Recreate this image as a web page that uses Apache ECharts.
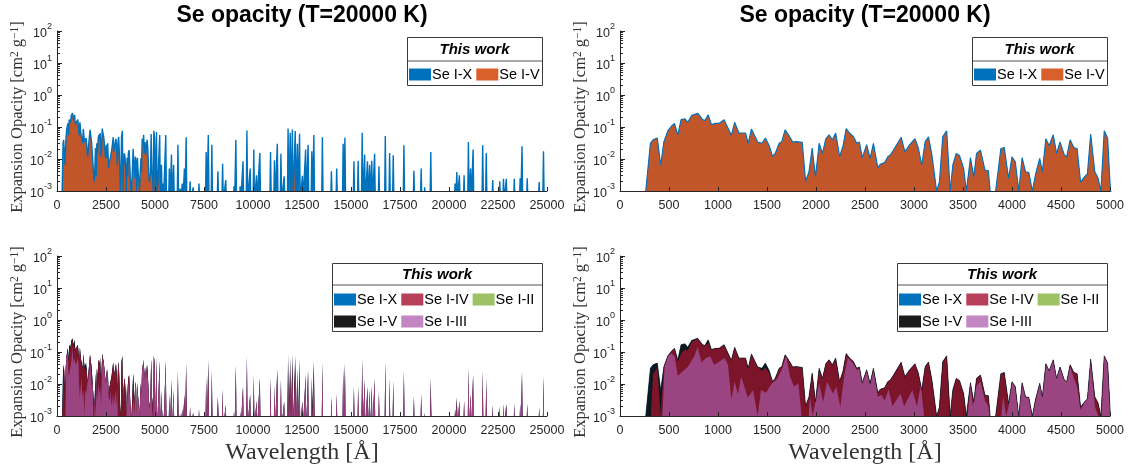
<!DOCTYPE html>
<html>
<head>
<meta charset="utf-8">
<script src="https://cdn.jsdelivr.net/npm/echarts@6/dist/echarts.min.js"></script>
<style>
  html, body { margin: 0; padding: 0; background: #ffffff; }
  #chart { width: 1134px; height: 468px; }
</style>
</head>
<body>
<div id="chart"></div>
<script>
// ---- Expansion opacity of Se, T = 20000 K ----------------------------------
// Dense part of the spectrum (0-5000 Å): polyline vertices, wavelength in Å,
// opacity in cm^2/g.  Values under 1e-3 lie below the plotted range.
const denseWave = [
  0, 253, 310, 337, 381, 415, 448, 489, 530, 556,
  590, 623, 664, 691, 731, 792, 843, 866, 900, 933,
  977, 1011, 1062, 1078, 1136, 1170, 1213, 1281, 1308, 1341,
  1405, 1449, 1483, 1523, 1557, 1584, 1624, 1651, 1685, 1719,
  1763, 1796, 1860, 1894, 1928, 1961, 1995, 2032, 2066, 2100,
  2133, 2167, 2201, 2241, 2275, 2308, 2342, 2383, 2416, 2443,
  2472, 2517, 2552, 2586, 2631, 2655, 2700, 2734, 2758, 2786,
  2817, 2869, 2907, 2948, 3010, 3045, 3079, 3114, 3148, 3183,
  3231, 3259, 3293, 3334, 3369, 3396, 3431, 3465, 3507, 3534,
  3576, 3610, 3638, 3679, 3724, 3759, 3786, 3821, 3886, 3921,
  3965, 4000, 4034, 4069, 4103, 4138, 4172, 4207, 4241, 4283,
  4310, 4345, 4379, 4421, 4455, 4490, 4534, 4558, 4593, 4631,
  4665, 4700, 4741, 4769, 4803, 4845, 4879, 4907, 4941, 4976,
  5010
];
// Se I-X (all ion stages I to X)
const denseIX = [
  5e-4, 5e-4, .031, .040, .045, .0065, .035, .077, .11, .13,
  .057, .17, .18, .14, .23, .27, .17, .16, .24, .12,
  .13, .13, .17, .17, .055, .14, .065, .065, .031, .087,
  .034, .031, .045, .026, .012, .015, .031, .035, .082, .057,
  .034, .035, .033, .002, .004, .022, .0028, .031, .015, .043,
  .057, .040, .065, .012, .025, .089, .065, .050, .031, .034,
  .011, .028, .0105, .031, .0053, .0068, .0077, .012, .0134, .018,
  .026, .048, .017, .026, .043, .0217, .0065, .035, .049, .0134,
  .001, .0019, .050, .076, .001, .0065, .015, .0127, .005, .001,
  .011, .0028, .015, .019, .0045, .0043, 5e-4, 5e-4, .021, .023,
  .0025, .0118, .0082, .001, .011, .004, .0038, .001, .0034, .0105,
  .004, .043, .026, .057, .015, .034, .0134, .0118, .040, .023,
  .021, .0019, .0028, .0034, .060, .004, .0025, .001, .076, .045,
  5e-4
];
// Se I-V coincides with Se I-X over the dense part
const denseV = denseIX;
// Se I-IV (ion stages I to IV)
const denseIV = [
  5e-4, 5e-4, 5e-4, .020, .032, .001, .035, .077, .11, .13,
  .050, .090, .12, .11, .21, .26, .17, .16, .19, .12,
  .13, .13, .17, .17, .055, .14, .065, .065, .031, .087,
  .034, .026, .032, .022, .012, .015, .031, .035, .082, .057,
  .034, .035, .033, .002, .004, .022, .0028, .031, .015, .043,
  .057, .040, .065, .012, .025, .089, .065, .050, .031, .034,
  .011, .028, .0105, .031, .0053, .0068, .0077, .012, .0134, .018,
  .026, .048, .017, .026, .043, .0217, .0065, .035, .049, .0134,
  .001, .0019, .050, .076, .001, .0065, .015, .0127, .005, .001,
  .011, .0028, .015, .019, .0045, .0043, 5e-4, 5e-4, .021, .023,
  .0025, .0118, .0082, .001, .011, .004, .0038, .001, .0034, .0105,
  .004, .043, .026, .057, .015, .034, .0134, .0118, .040, .023,
  .021, .0019, .0028, .0034, .060, .004, .0025, .001, .076, .045,
  5e-4
];
// Se I-III (ion stages I to III), its own vertices
const denseWaveIII = [
  0, 428, 455, 489, 522, 556, 590, 691, 758, 792,
  832, 876, 920, 960, 1011, 1068, 1102, 1136, 1170, 1203,
  1237, 1304, 1358, 1405, 1439, 1490, 1550, 1601, 1651, 1695,
  1736, 1776, 1820, 1853, 1894, 1920, 1938, 1965, 2032, 2073,
  2113, 2174, 2207, 2248, 2292, 2325, 2376, 2416, 2443, 2472,
  2517, 2552, 2586, 2631, 2670, 2700, 2741, 2780, 2862, 2900,
  2983, 3030, 3069, 3103, 3120, 3540, 3576, 3600, 3638, 3679,
  3724, 3759, 3786, 3880, 3910, 3940, 3965, 4000, 4034, 4069,
  4103, 4138, 4172, 4207, 4241, 4283, 4310, 4345, 4379, 4421,
  4455, 4490, 4534, 4558, 4593, 4631, 4665, 4700, 4741, 4769,
  4803, 4845, 4879, 4907, 4941, 4976, 5010
];
const denseIII = [
  5e-4, 5e-4, .035, .077, .089, .075, .018, .034, .073, .14,
  .047, .065, .073, .040, .050, .065, .040, .0033, .0118, .0048,
  .017, .0038, .0065, .001, .0065, .0053, .0105, .014, .028, .077,
  .017, .0082, .0105, .001, 5e-4, 5e-4, .004, .001, .0105, .0028,
  .0118, .005, .0082, .0019, .0217, .065, .045, .028, .030, .010,
  .026, .0095, .028, .004, .0045, .003, .0068, .002, .005, .002,
  .0065, .002, .009, .001, 5e-4, 5e-4, .010, .002, .009, .012,
  .003, .002, 5e-4, 5e-4, .004, .001, .002, .0118, .0075, .001,
  .011, .004, .0035, .001, .003, .0105, .004, .043, .026, .057,
  .015, .034, .0134, .0118, .035, .015, .008, .0015, .0028, .0034,
  .060, .002, .001, 5e-4, .076, .045, 5e-4
];

// Isolated lines beyond 5000 Å: line centre and peak opacity per ion range
const lineWave = [
  5075, 5240, 5330, 5400, 5550, 5730, 5840, 5950, 6170, 6280,
  6390, 6500, 6590, 6790, 6950, 7245, 7610, 7720, 7900, 8210,
  8450, 8610, 9030, 9125, 9345, 9490, 9690, 9855, 10040, 10180,
  10350, 10895, 11095, 11240, 11425, 11590, 11790, 11900, 12010, 12155,
  12265, 12375, 12520, 12685, 12810, 13000, 13105, 13540, 14000, 14270,
  14600, 14690, 15150, 15365, 15570, 15695, 15840, 15950, 16060, 16205,
  16425, 16750, 16970, 17155, 17700, 18210, 18580, 18760, 19070, 20310,
  20400, 20530, 20770, 20990, 21100, 21230, 21720, 21900, 22230, 22590,
  22780, 22925, 23330, 23630, 23725, 23990, 24600, 24820
];
const lineIX = [
  .070, .056, .0066, .0017, .056, .005, .0137, .0066, .028, .0012,
  .0017, .005, .048, .002, .0013, .0017, .0166, .056, .028, .0041,
  .0071, .0022, .0014, .039, .0014, .0085, .078, .005, .0197, .0031,
  .0155, .0166, .0091, .030, .0145, .0029, .090, .066, .084, .075,
  .030, .062, .003, .0197, .028, .0175, .056, .048, .0041, .005,
  .030, .046, .0085, .0088, .066, .0137, .0085, .0066, .0088, .0145,
  .0059, .052, .0155, .013, .027, .0043, .005, .0013, .0166, .0017,
  .0039, .0031, .0031, .034, .005, .0197, .027, .0155, .0022, .002,
  .0024, .0024, .0024, .0025, .025, .0025, .0019, .0175
];
const lineV = [
  .030, .010, 5e-4, 5e-4, .020, 5e-4, .003, 5e-4, .005, 5e-4,
  5e-4, .004, .005, 5e-4, 5e-4, 5e-4, 5e-4, .020, .003, .004,
  5e-4, 5e-4, 5e-4, 5e-4, 5e-4, 5e-4, .004, 5e-4, .003, 5e-4,
  5e-4, 5e-4, 5e-4, 5e-4, 5e-4, 5e-4, .050, .030, .050, .040,
  5e-4, .020, 5e-4, 5e-4, 5e-4, 5e-4, .030, 5e-4, 5e-4, 5e-4,
  5e-4, 5e-4, 5e-4, 5e-4, .008, 5e-4, 5e-4, 5e-4, 5e-4, 5e-4,
  5e-4, 5e-4, 5e-4, 5e-4, 5e-4, 5e-4, 5e-4, 5e-4, .004, 5e-4,
  .003, 5e-4, 5e-4, 5e-4, .004, 5e-4, 5e-4, 5e-4, 5e-4, 5e-4,
  5e-4, 5e-4, 5e-4, 5e-4, 5e-4, 5e-4, 5e-4, 5e-4
];
// Se I-IV carries the full line strength of Se I-X beyond 5000 Å
const lineIV = lineIX;
const lineIII = [
  .050, .040, .005, .0015, .045, .004, .010, .005, .020, .0011,
  .0015, .004, .030, .0018, .0012, .0015, .012, .015, .020, .003,
  .006, .002, .0013, .030, .0013, .007, .060, .004, .015, .0028,
  .012, .013, .008, .022, .012, .0025, .010, .008, .015, .012,
  .006, .010, .0025, .015, .022, .014, .040, .038, .0035, .0045,
  .024, .036, .007, .007, .050, .011, .007, .0055, .007, .012,
  .005, .040, .012, .010, .021, .0038, .0045, .0012, .013, .0015,
  .0035, .0028, .0028, .026, .0045, .015, .021, .012, .002, .0018,
  .0022, .0022, .0022, .0023, .020, .0023, .0017, .014
];
// Se I-II stays below 1e-3 everywhere
const waveII = [0, 25000];
const opacityII = [5e-4, 5e-4];

// Axis ticks
const fullTicks = [0, 2500, 5000, 7500, 10000, 12500, 15000, 17500, 20000, 22500, 25000];
const zoomTicks = [0, 500, 1000, 1500, 2000, 2500, 3000, 3500, 4000, 4500, 5000];
const decadeExponents = [-3, -2, -1, 0, 1, 2];

// ---- building the series ----------------------------------------------------
const LINE_HALF_WIDTH = 35;   // Å, half base width of an isolated line
const BELOW = 5e-4;           // baseline under the plotted range

function curve(wave, vals, lw, lv) {
  const pts = wave.map((x, i) => [x, vals[i]]);
  if (lw) {
    lw.forEach((x, i) => {
      pts.push([x - LINE_HALF_WIDTH, BELOW], [x, lv[i]], [x + LINE_HALF_WIDTH, BELOW]);
    });
  }
  return pts;
}

const dataIX = curve(denseWave, denseIX, lineWave, lineIX);
const dataV = curve(denseWave, denseV, lineWave, lineV);
const dataIV = curve(denseWave, denseIV, lineWave, lineIV);
const dataIII = curve(denseWaveIII, denseIII, lineWave, lineIII);
const dataII = curve(waveII, opacityII);

const minorTicks = [];
for (const e of decadeExponents.slice(0, -1)) {
  for (let m = 2; m <= 9; m++) minorTicks.push(+(m * Math.pow(10, e)).toPrecision(3));
}

const AX = '#262626';
const SANS = '"Liberation Sans", Arial, Helvetica, sans-serif';
const SERIF = '"Liberation Serif", "Times New Roman", serif';

const C = {
  ix: '#0072BD',
  vTopFill: '#C1562B', vTopKey: '#D95F2B',
  vBotFill: '#0D171F', vBotKey: '#1A1A1A',
  ivFill: '#7C1529', ivKey: '#B6405A',
  iiiFill: '#9A4482', iiiKey: '#C286C3',
  iiFill: '#9CC265', iiKey: '#9CC265'
};

const grids = [
  { left: 57, top: 31, width: 490, height: 160 },
  { left: 620, top: 31, width: 490, height: 160 },
  { left: 57, top: 256, width: 490, height: 160 },
  { left: 620, top: 256, width: 490, height: 160 }
];

const supRich = {
  b: { fontSize: 12.5, fontFamily: SANS, color: AX, lineHeight: 18, verticalAlign: 'bottom' },
  s: { fontSize: 9, fontFamily: SANS, color: AX, lineHeight: 9, verticalAlign: 'top' }
};

const xAxes = grids.map((g, i) => {
  const zoom = i % 2 === 1;
  const ticks = zoom ? zoomTicks : fullTicks;
  return {
    gridIndex: i, type: 'value',
    min: ticks[0], max: ticks[ticks.length - 1], interval: ticks[1] - ticks[0],
    axisLine: { lineStyle: { color: AX, width: 1 } },
    axisTick: { inside: true, length: 4, lineStyle: { color: AX } },
    axisLabel: {
      color: AX, fontSize: 12.5, fontFamily: SANS, margin: 8,
      showMinLabel: true, showMaxLabel: true,
      formatter: v => String(v)
    },
    splitLine: { show: false },
    z: 10,
    name: i >= 2 ? 'Wavelength [Å]' : '',
    nameLocation: 'middle', nameGap: 25,
    nameTextStyle: { fontFamily: SERIF, fontSize: 24, color: '#333333' }
  };
});

const yAxes = grids.map((g, i) => ({
  gridIndex: i, type: 'log', logBase: 10, min: 1e-3, max: 1e2, interval: 1,
  position: 'left',
  axisLine: { show: true, lineStyle: { color: AX, width: 1 } },
  axisTick: { show: true, inside: true, length: 5, lineStyle: { color: AX } },
  axisLabel: {
    margin: 5,
    formatter: v => '{b|10}{s|' + Math.round(Math.log10(v)) + '}',
    rich: supRich
  },
  splitLine: { show: false },
  z: 10,
  name: 'Expansion Opacity [cm{s|2} g{s|−1}]',
  nameLocation: 'middle', nameGap: 30,
  nameTextStyle: {
    fontFamily: SERIF, fontSize: 16.5, color: '#333333',
    padding: [0, 12, 0, 0],
    rich: { s: { fontFamily: SERIF, fontSize: 11.5, color: '#333333', verticalAlign: 'top', lineHeight: 10 } }
  }
}));

// log-spaced minor ticks drawn by an overlay axis on each panel
const minorAxes = grids.map((g, i) => ({
  gridIndex: i, type: 'log', logBase: 10, min: 1e-3, max: 1e2,
  position: 'left', offset: 0,
  axisLine: { show: false },
  axisLabel: { show: false },
  splitLine: { show: false },
  axisTick: { show: true, inside: true, length: 3, customValues: minorTicks, lineStyle: { color: AX } },
  z: 10
}));

function area(name, idx, data, fill, lineColor, lineWidth) {
  return {
    type: 'line', name, xAxisIndex: idx, yAxisIndex: idx, data,
    symbol: 'none', showSymbol: false, silent: true, animation: false,
    itemStyle: { color: fill },
    lineStyle: lineColor ? { color: lineColor, width: lineWidth } : { width: 0, opacity: 0 },
    areaStyle: { color: fill, opacity: 1, origin: 1e-3 },
    z: 2
  };
}

const series = [];
series.push(area('Se I-X', 0, dataIX, C.ix, C.ix, 1.4));
series.push(area('Se I-V', 0, dataV, C.vTopFill));
series.push(area('Se I-X', 1, dataIX, C.ix, C.ix, 1.1));
series.push(area('Se I-V', 1, dataV, C.vTopFill));
[2, 3].forEach(k => {
  series.push(area('Se I-X', k, dataIX, C.ix));
  series.push(k === 3 ? area('Se I-V', k, dataV, C.vBotFill, C.vBotFill, 0.6)
                      : area('Se I-V', k, dataV, C.vBotFill));
  series.push(area('Se I-IV', k, dataIV, C.ivFill));
  series.push(area('Se I-III', k, dataIII, C.iiiFill));
  series.push(area('Se I-II', k, dataII, C.iiFill));
});

const keyStyle = {
  'Se I-X': C.ix, 'Se I-IV': C.ivKey, 'Se I-II': C.iiKey, 'Se I-III': C.iiiKey
};
function legendRow(left, top, names, vKey) {
  return {
    left, top, padding: 0, itemGap: 4, itemWidth: 22, itemHeight: 12,
    icon: 'rect', selectedMode: false, z: 60,
    textStyle: { fontFamily: SANS, fontSize: 14.5, color: '#000', padding: [0, 0, 0, -4] },
    data: names.map(n => ({ name: n, itemStyle: { color: n === 'Se I-V' ? vKey : keyStyle[n], borderWidth: 0 } }))
  };
}

const legends = [
  legendRow(409, 67, ['Se I-X', 'Se I-V'], C.vTopKey),
  legendRow(974, 67, ['Se I-X', 'Se I-V'], C.vTopKey),
  legendRow(334, 292, ['Se I-X', 'Se I-IV', 'Se I-II'], C.vBotKey),
  legendRow(334, 314, ['Se I-V', 'Se I-III'], C.vBotKey),
  legendRow(899, 292, ['Se I-X', 'Se I-IV', 'Se I-II'], C.vBotKey),
  legendRow(899, 314, ['Se I-V', 'Se I-III'], C.vBotKey)
];

function legendFrame(x, y, w, h, sep) {
  return [
    { type: 'rect', z: 50, shape: { x: x + 0.5, y: y + 0.5, width: w, height: h },
      style: { fill: '#ffffff', stroke: '#3a3a3a', lineWidth: 1 } },
    { type: 'line', z: 51, shape: { x1: x + 1, y1: y + sep, x2: x + w, y2: y + sep },
      style: { stroke: '#8c8c8c', lineWidth: 1.5 } },
    { type: 'text', z: 52, x: x + w / 2, y: y + sep / 2 + 1,
      style: { text: 'This work', fontFamily: SANS, fontSize: 15, fontWeight: 'bold', fontStyle: 'italic',
               fill: '#000', align: 'center', verticalAlign: 'middle' } }
  ];
}

function panelTitle(cx) {
  return { type: 'text', z: 52, x: cx, y: 16,
    style: { text: 'Se opacity (T=20000 K)', fontFamily: SANS, fontSize: 23, fontWeight: 'bold',
             fill: '#000', align: 'center', verticalAlign: 'middle' } };
}

const graphics = [
  panelTitle(57 + 245), panelTitle(620 + 245),
  ...legendFrame(407, 37, 135, 48, 24),
  ...legendFrame(972, 37, 135, 48, 24),
  ...legendFrame(332, 263, 210, 68, 22),
  ...legendFrame(897, 263, 210, 68, 22)
];

const chart = echarts.init(document.getElementById('chart'), null, { renderer: 'canvas' });
chart.setOption({
  backgroundColor: '#ffffff',
  animation: false,
  textStyle: { fontFamily: SANS },
  grid: grids,
  xAxis: xAxes,
  yAxis: [...yAxes, ...minorAxes],
  legend: legends,
  graphic: graphics,
  series
});
</script>
</body>
</html>
